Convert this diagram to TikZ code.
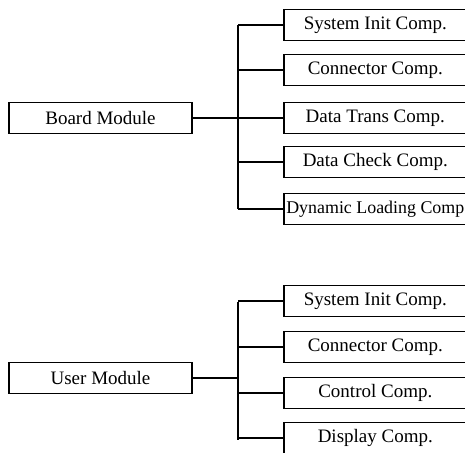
\documentclass[tikz,border=0pt]{standalone}
\usepackage{fontspec}
\setmainfont{Liberation Serif}
\usetikzlibrary{positioning}

\tikzset{
    modbox/.style={draw, line width=1.6pt, minimum width=183pt, minimum height=31pt,
        inner sep=0pt, font=\fontsize{19}{22}\selectfont},
    compbox/.style={draw, line width=1.6pt, minimum width=183pt, minimum height=31pt,
        inner sep=0pt, anchor=west, font=\fontsize{19}{22}\selectfont},
    link/.style={line width=1.6pt}
}

\begin{document}
\begin{tikzpicture}[x=1pt, y=-1pt]
    \useasboundingbox (0,0) rectangle (465,452);

    % Board module and its components
    \node[modbox] (board) at (100.5,118) {Board Module};
    \coordinate (btop) at (238,25);
    \coordinate (bbot) at (238,209);
    \draw[link] (btop) -- (bbot);
    \draw[link] (board.east) -- (board.east -| btop);

    \foreach \y/\txt [count=\i from 1] in {25/System Init Comp., 70/Connector Comp.,
        118/Data Trans Comp., 162/Data Check Comp.,
        209/{\fontsize{17.9}{22}\selectfont Dynamic Loading Comp}} {
        % one component box with its branch
        \node[compbox] (bc\i) at (283,\y) {\txt};
        \draw[link] (bc\i.west -| btop) -- (bc\i.west);
    }

    % User module and its components
    \node[modbox] (user) at (100.5,378) {User Module};
    \coordinate (utop) at (238,302);
    \coordinate (ubot) at (238,440);
    \draw[link] (utop) -- (ubot);
    \draw[link] (user.east) -- (user.east -| utop);

    \foreach \y/\txt [count=\i from 1] in {301/System Init Comp., 347/Connector Comp.,
        393/Control Comp., 438/Display Comp.} {
        % one component box with its branch
        \node[compbox] (uc\i) at (283,\y) {\txt};
        \draw[link] (uc\i.west -| utop) -- (uc\i.west);
    }
\end{tikzpicture}
\end{document}
